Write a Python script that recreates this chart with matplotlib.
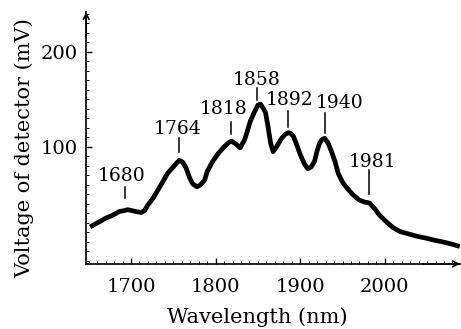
import numpy as np
import matplotlib.pyplot as plt
from matplotlib.ticker import MultipleLocator

# spectrum
wavelength = [1654, 1662, 1670, 1678, 1686, 1692, 1696, 1701, 1706, 1712, 1716,
              1720, 1726, 1732, 1738, 1743, 1750, 1757, 1761, 1765, 1769, 1773,
              1778, 1782, 1787, 1790, 1796, 1803, 1810, 1816, 1819, 1824, 1829,
              1834, 1837, 1841, 1846, 1850, 1853, 1856, 1859, 1862, 1865, 1868,
              1872, 1878, 1882, 1886, 1889, 1892, 1896, 1900, 1905, 1909, 1913,
              1917, 1920, 1923, 1926, 1929, 1933, 1937, 1941, 1945, 1950, 1955,
              1962, 1970, 1976, 1982, 1988, 1994, 2002, 2010, 2018, 2026, 2038,
              2049, 2058, 2069, 2078, 2086]
voltage = [17, 21, 25, 28, 32, 33, 34, 33, 32, 31, 33,
           39, 46, 55, 64, 72, 79, 86, 84, 78, 68, 61,
           58, 60, 65, 74, 84, 93, 100, 105, 106, 103, 99,
           107, 115, 127, 137, 144, 145, 141, 136, 121, 104, 95,
           100, 109, 113, 115, 114, 111, 102, 92, 82, 77, 79,
           85, 96, 104, 108, 109, 104, 95, 85, 72, 63, 57,
           50, 44, 42, 41, 35, 28, 21, 15, 11, 9, 6,
           4, 2, 0, -2, -4]

# peak annotations
peak_labels = ['1680', '1764', '1818', '1858', '1892', '1940', '1981']
label_x = [1689, 1755, 1809, 1848, 1887, 1947, 1986]
label_y = [69, 119, 140, 170, 149, 146, 84]
mark_x = [1693, 1757, 1818, 1849, 1886, 1929, 1981]
mark_lo = [46, 95, 114, 149, 121, 115, 50]
mark_hi = [58, 109, 126, 162, 138, 136, 76]

plt.rcParams['font.family'] = 'DejaVu Serif'

fig = plt.figure(figsize=(4.61, 3.29), dpi=100)
ax = fig.add_axes([0.187, 0.198, 0.811, 0.766])

ax.plot(wavelength, voltage, color='black', lw=3.4, solid_joinstyle='round')

for lab, tx, ty, mx, lo, hi in zip(peak_labels, label_x, label_y, mark_x, mark_lo, mark_hi):
    ax.text(tx, ty, lab, ha='center', va='center', fontsize=13.5)
    ax.plot([mx, mx], [lo, hi], color='black', lw=1.1)

ax.set_xlim(1647, 2089)
ax.set_ylim(-23, 242)
ax.set_xticks([1700, 1800, 1900, 2000])
ax.set_yticks([100, 200])
ax.xaxis.set_minor_locator(MultipleLocator(10))
ax.yaxis.set_minor_locator(MultipleLocator(10))
ax.tick_params(which='both', direction='in', top=False, right=False, labelsize=14)
ax.tick_params(which='major', length=4, width=1)
ax.tick_params(which='minor', length=2, width=0.7)
ax.tick_params(axis='x', which='major', pad=10)
ax.tick_params(axis='y', which='major', pad=6)

for s in ['top', 'right']:
    ax.spines[s].set_visible(False)
for s in ['left', 'bottom']:
    ax.spines[s].set_linewidth(1.2)

ax.annotate('', xy=(0, 1.0), xytext=(0, 0.9), xycoords='axes fraction',
            arrowprops=dict(arrowstyle='->', lw=1.2, color='black', shrinkA=0, shrinkB=0))
ax.annotate('', xy=(1.0, 0), xytext=(0.9, 0), xycoords='axes fraction',
            arrowprops=dict(arrowstyle='->', lw=1.2, color='black', shrinkA=0, shrinkB=0))

ax.set_xlabel('Wavelength (nm)', fontsize=15)
ax.set_ylabel('Voltage of detector (mV)', fontsize=15)
ax.xaxis.set_label_coords(0.457, -0.172)
ax.yaxis.set_label_coords(-0.14, 0.46)

fig.savefig('out.png', dpi=100)
